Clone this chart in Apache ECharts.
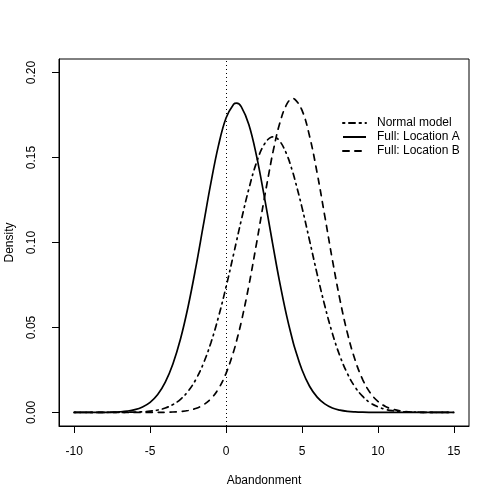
<!DOCTYPE html>
<html>
<head>
<meta charset="utf-8">
<script src="https://cdn.jsdelivr.net/npm/echarts@6/dist/echarts.min.js"></script>
<style>
html,body{margin:0;padding:0;background:#fff;}
#chart{width:500px;height:500px;}
</style>
</head>
<body>
<div id="chart"></div>
<script>
// Abandonment grid (x values)
const xs = [-10,-9.5,-9,-8.5,-8,-7.5,-7,-6.5,-6,-5.5,-5,-4.5,-4,-3.5,-3,-2.5,-2,-1.5,-1,-0.5,0,0.5,0.7,1,1.5,2,2.5,3,3.1,3.5,4,4.4,4.5,5,5.5,6,6.5,7,7.5,8,8.5,9,9.5,10,10.5,11,11.5,12,12.5,13,13.5,14,14.5,15];

// Density values
const normalModel = [0,0,0,0,0.00001,0.00002,0.00004,0.00009,0.00018,0.00038,0.00075,0.0014,0.0026,0.0046,0.0077,0.0124,0.0192,0.0286,0.0409,0.0561,0.0738,0.0932,0.1012,0.113,0.1315,0.1469,0.1575,0.1621,0.1622,0.1601,0.1518,0.1412,0.1381,0.1207,0.1012,0.0814,0.0629,0.0466,0.0332,0.0227,0.0149,0.0094,0.0056,0.0033,0.0018,0.00097,0.0005,0.00024,0.00012,0.00005,0.00002,0.00001,0,0];

const fullLocationA = [0,0,0.00001,0.00002,0.00006,0.00015,0.00035,0.00076,0.0016,0.0032,0.0059,0.0105,0.0178,0.0285,0.0432,0.0622,0.0849,0.1099,0.1349,0.157,0.1733,0.1814,0.182,0.18,0.1695,0.1513,0.128,0.1028,0.0977,0.0782,0.0565,0.0419,0.0387,0.0251,0.0154,0.009,0.005,0.0026,0.0013,0.0006,0.00028,0.00012,0.00005,0.00002,0,0,0,0,0,0,0,0,0,0];

const fullLocationB = [0,0,0,0,0,0,0,0,0,0,0.00002,0.00004,0.00009,0.00023,0.00051,0.0011,0.0023,0.0044,0.008,0.0139,0.023,0.0359,0.0423,0.0531,0.0745,0.0991,0.1249,0.1493,0.1537,0.169,0.1814,0.1847,0.1845,0.1779,0.1626,0.1409,0.1157,0.09,0.0664,0.0464,0.0308,0.0193,0.0115,0.0065,0.0035,0.0018,0.00085,0.00038,0.00017,0.00007,0.00003,0.00001,0,0];

const xTicks = [-10,-5,0,5,10,15];
const yTicks = [0,0.05,0.10,0.15,0.20];
const seriesNames = ['Normal model','Full: Location A','Full: Location B'];

const FONT = 'Liberation Sans, Arial, Helvetica, sans-serif';

function pairs(vals){ return xs.map((x,i)=>[x, vals[i]]); }

const chart = echarts.init(document.getElementById('chart'), null, {renderer:'canvas'});
chart.setOption({
  animation:false,
  backgroundColor:'#fff',
  grid:{left:59,right:31,top:59,bottom:74,show:true,borderColor:'#000',borderWidth:1,backgroundColor:'transparent',outerBoundsMode:'none',containLabel:false},
  legend:{
    orient:'vertical', left:342, top:117, padding:0,
    itemWidth:23, itemHeight:12, itemGap:2,
    data:seriesNames,
    itemStyle:{color:'rgba(0,0,0,0)',borderWidth:0,opacity:0},
    textStyle:{fontFamily:FONT,fontSize:12,color:'#000',padding:[0,0,0,6]},
    selectedMode:false
  },
  xAxis:{
    type:'value', min:-11, max:16,
    name:'Abandonment', nameLocation:'middle', nameGap:49,
    nameTextStyle:{fontFamily:FONT,fontSize:12,color:'#000'},
    axisLine:{show:true,onZero:false,lineStyle:{color:'#000',width:1}},
    axisTick:{show:true,inside:false,length:7,customValues:xTicks,lineStyle:{color:'#000',width:1}},
    axisLabel:{customValues:xTicks,margin:20,fontFamily:FONT,fontSize:12,color:'#000',formatter:v=>String(v)},
    splitLine:{show:false}
  },
  yAxis:{
    type:'value', min:-0.008, max:0.208,
    name:'Density', nameLocation:'middle', nameGap:43, nameRotate:90,
    nameTextStyle:{fontFamily:FONT,fontSize:12,color:'#000'},
    axisLine:{show:true,onZero:false,lineStyle:{color:'#000',width:1}},
    axisTick:{show:true,inside:false,length:7,customValues:yTicks,lineStyle:{color:'#000',width:1}},
    axisLabel:{customValues:yTicks,margin:21,rotate:90,fontFamily:FONT,fontSize:12,color:'#000',formatter:v=>v.toFixed(2)},
    splitLine:{show:false}
  },
  series:[
    {
      name:seriesNames[0], type:'line', data:pairs(normalModel), smooth:0.4, symbol:'none',
      lineStyle:{color:'#000',width:1.7,type:[1.5,4.5,6,4.5],cap:'round'},
      itemStyle:{color:'#000'},
      markLine:{silent:true,symbol:'none',label:{show:false},
        lineStyle:{color:'#000',width:1,type:[1,3]},
        data:[{xAxis:0}]}
    },
    {
      name:seriesNames[1], type:'line', data:pairs(fullLocationA), smooth:0.4, symbol:'none',
      lineStyle:{color:'#000',width:1.7,type:'solid'},
      itemStyle:{color:'#000'}
    },
    {
      name:seriesNames[2], type:'line', data:pairs(fullLocationB), smooth:0.4, symbol:'none',
      lineStyle:{color:'#000',width:1.7,type:[6,6],cap:'round'},
      itemStyle:{color:'#000'}
    }
  ]
});
</script>
</body>
</html>
